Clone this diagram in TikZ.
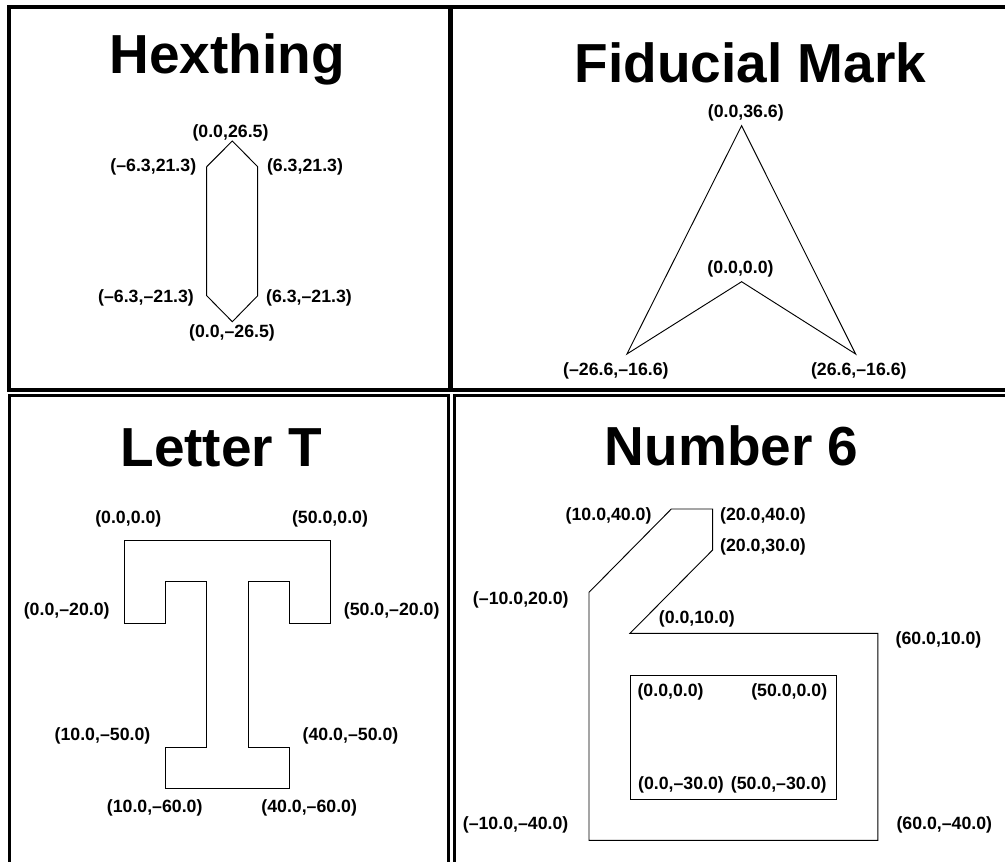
\documentclass[tikz,border=0pt]{standalone}
\usepackage{fontspec}
\newfontfamily\titfont{Liberation Sans}
\newfontfamily\labfont{Liberation Sans}
\tikzset{
  panel/.style={line width=2.5pt, line cap=rect},
  outline/.style={line width=0.7pt, line join=miter},
  lab/.style={font=\labfont\bfseries\fontsize{13.3}{15}\selectfont, inner sep=0pt},
  ttl/.style={font=\titfont\bfseries\fontsize{41.25}{48}\selectfont, inner sep=0pt, anchor=base},
}
\begin{document}
\begin{tikzpicture}[x=0.75pt, y=-0.75pt]
\fill[white] (0,0) rectangle (1005,861);
\useasboundingbox (0,0) rectangle (1005,861);

% panels
\draw[panel] (9,7) rectangle (449.5,390);
\draw[panel] (1015,7) -- (451.5,7) -- (451.5,390) -- (1015,390);
\draw[panel] (9.8,875) -- (9.8,395.2) -- (448.3,395.2) -- (448.3,875);
\draw[panel] (1015,395.2) -- (454.2,395.2) -- (454.2,875);

% ---------- Hexthing ----------
\node[ttl] (t1) at (227,73) {Hexthing};
\coordinate (h1) at (232.3,141);
\coordinate (h2) at (257.7,166.7);
\coordinate (h3) at (257.7,295.7);
\coordinate (h4) at (232.3,321.7);
\coordinate (h5) at (206.7,295.7);
\coordinate (h6) at (206.7,166.7);
\draw[outline] (h1) -- (h2) -- (h3) -- (h4) -- (h5) -- (h6) -- cycle;
\node[lab] (hl1) at (230.5,133) {(0.0,26.5)};
\node[lab] (hl2) at (153.3,167) {(–6.3,21.3)};
\node[lab] (hl3) at (305,167) {(6.3,21.3)};
\node[lab] (hl4) at (146,298) {(–6.3,–21.3)};
\node[lab] (hl5) at (309,298) {(6.3,–21.3)};
\node[lab] (hl6) at (232,333) {(0.0,–26.5)};

% ---------- Fiducial Mark ----------
\node[ttl] (t2) at (750.5,82.7) {Fiducial Mark};
\coordinate (f1) at (741.6,125.7);
\coordinate (f2) at (855.6,354);
\coordinate (f3) at (741.6,281.7);
\coordinate (f4) at (626.9,354);
\draw[outline] (f1) -- (f2) -- (f3) -- (f4) -- cycle;
\node[lab] (fl1) at (745.8,113.3) {(0.0,36.6)};
\node[lab] (fl2) at (740.5,268.7) {(0.0,0.0)};
\node[lab] (fl3) at (615.9,371) {(–26.6,–16.6)};
\node[lab] (fl4) at (858.8,371) {(26.6,–16.6)};

% ---------- Letter T ----------
\node[ttl] (t3) at (221.3,466) {Letter T};
\coordinate (a1) at (124,540.7);
\coordinate (a2) at (330.7,540.7);
\coordinate (a3) at (330.7,623);
\coordinate (a4) at (289.3,623);
\coordinate (a5) at (289.3,581.7);
\coordinate (a6) at (248,581.7);
\coordinate (a7) at (248,747.3);
\coordinate (a8) at (289.3,747.3);
\coordinate (a9) at (289.3,788.3);
\coordinate (a10) at (165.3,788.3);
\coordinate (a11) at (165.3,747.3);
\coordinate (a12) at (206.7,747.3);
\coordinate (a13) at (206.7,581.7);
\coordinate (a14) at (165.3,581.7);
\coordinate (a15) at (165.3,623);
\coordinate (a16) at (124,623);
\draw[outline] (a1) -- (a2) -- (a3) -- (a4) -- (a5) -- (a6) -- (a7) -- (a8)
  -- (a9) -- (a10) -- (a11) -- (a12) -- (a13) -- (a14) -- (a15) -- (a16) -- cycle;
\node[lab] (tl1) at (128.3,519.2) {(0.0,0.0)};
\node[lab] (tl2) at (330,519.2) {(50.0,0.0)};
\node[lab] (tl3) at (66.7,611.3) {(0.0,–20.0)};
\node[lab] (tl4) at (391.7,611.3) {(50.0,–20.0)};
\node[lab] (tl5) at (102.5,735.5) {(10.0,–50.0)};
\node[lab] (tl6) at (350.5,735.5) {(40.0,–50.0)};
\node[lab] (tl7) at (154.7,808.3) {(10.0,–60.0)};
\node[lab] (tl8) at (309.2,808.3) {(40.0,–60.0)};

% ---------- Number 6 ----------
\node[ttl] (t4) at (731.7,465.7) {Number 6};
\coordinate (s1) at (671.3,509);
\coordinate (s2) at (712.6,509);
\coordinate (s3) at (712.6,550);
\coordinate (s4) at (630,633.3);
\coordinate (s5) at (877.8,633.3);
\coordinate (s6) at (877.8,840.3);
\coordinate (s7) at (589,840.3);
\coordinate (s8) at (589,592.3);
\draw[outline] (s1) -- (s2) -- (s3) -- (s4) -- (s5) -- (s6) -- (s7) -- (s8) -- cycle;
\coordinate (r1) at (630,675);
\coordinate (r2) at (836.8,799);
\draw[outline] (r1) rectangle (r2);
\node[lab] (nl1) at (608.6,516.2) {(10.0,40.0)};
\node[lab] (nl2) at (763,516.2) {(20.0,40.0)};
\node[lab] (nl3) at (763,547.2) {(20.0,30.0)};
\node[lab] (nl4) at (520.8,599.5) {(–10.0,20.0)};
\node[lab] (nl5) at (696.8,618.7) {(0.0,10.0)};
\node[lab] (nl6) at (938.5,639.5) {(60.0,10.0)};
\node[lab] (nl7) at (670.6,692) {(0.0,0.0)};
\node[lab] (nl8) at (789.2,692) {(50.0,0.0)};
\node[lab] (nl9) at (681,784.7) {(0.0,–30.0)};
\node[lab] (nl10) at (778.7,784.7) {(50.0,–30.0)};
\node[lab] (nl11) at (515.6,824.7) {(–10.0,–40.0)};
\node[lab] (nl12) at (944.3,824.7) {(60.0,–40.0)};
\end{tikzpicture}
\end{document}
